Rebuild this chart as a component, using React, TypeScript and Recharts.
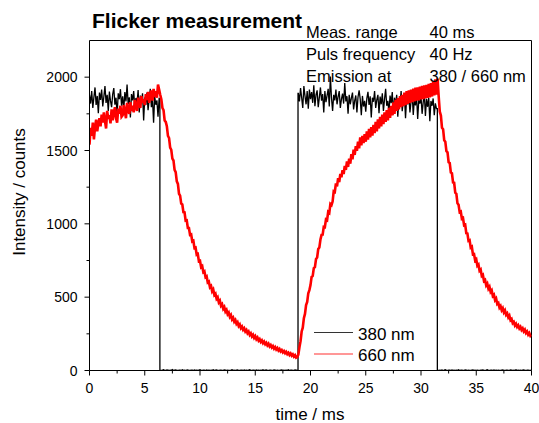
import { Line, LineChart, ReferenceLine, XAxis, YAxis } from "recharts"

// sampling grid of the recorded traces
const SAMPLE_STEP_MS = 0.1

const xTicks = [0, 2.5, 5, 7.5, 10, 12.5, 15, 17.5, 20, 22.5, 25, 27.5, 30, 32.5, 35, 37.5, 40]
const yTicks = [0, 250, 500, 750, 1000, 1250, 1500, 1750, 2000]

// 660 nm emission, counts at t = 0.0, 0.1, ... 40.0 ms (one row per ms)
const red660 = [
  1540, 1655, 1600, 1690, 1575, 1660, 1710, 1630, 1685, 1720,
  1665, 1745, 1690, 1760, 1700, 1650, 1770, 1715, 1740, 1685,
  1780, 1705, 1760, 1795, 1720, 1690, 1785, 1750, 1805, 1730,
  1740, 1810, 1765, 1720, 1825, 1780, 1750, 1830, 1770, 1805,
  1760, 1845, 1800, 1770, 1860, 1815, 1790, 1870, 1825, 1850,
  1810, 1885, 1845, 1900, 1825, 1870, 1910, 1840, 1920, 1865,
  1905, 1860, 1950, 1915, 1880, 1850, 1790, 1775, 1705, 1695,
  1665, 1600, 1585, 1520, 1505, 1445, 1432, 1368, 1352, 1290,
  1272, 1205, 1192, 1138, 1132, 1080, 1078, 1022, 1024, 972,
  972, 925, 928, 880, 884, 835, 838, 790, 794, 745,
  748, 705, 712, 670, 676, 636, 642, 600, 606, 568,
  576, 540, 552, 515, 523, 489, 499, 465, 476, 442,
  452, 421, 433, 402, 413, 384, 395, 366, 378, 349,
  360, 333, 344, 318, 329, 303, 314, 289, 300, 278,
  288, 266, 276, 254, 265, 243, 254, 233, 244, 223,
  234, 213, 224, 204, 214, 195, 205, 187, 197, 179,
  189, 171, 182, 164, 174, 157, 167, 149, 160, 143,
  153, 136, 146, 130, 139, 124, 133, 118, 127, 112,
  121, 106, 116, 101, 110, 95, 104, 88, 92, 108,
  158, 200, 266, 292, 356, 386, 446, 468, 527, 548,
  582, 638, 645, 698, 705, 760, 770, 828, 838, 893,
  925, 926, 980, 978, 1030, 1025, 1082, 1075, 1135, 1128,
  1152, 1222, 1218, 1275, 1255, 1312, 1285, 1340, 1318, 1365,
  1340, 1395, 1368, 1425, 1388, 1445, 1410, 1475, 1440, 1505,
  1470, 1530, 1498, 1560, 1515, 1590, 1535, 1600, 1550, 1612,
  1560, 1630, 1575, 1648, 1590, 1660, 1602, 1675, 1618, 1695,
  1630, 1712, 1650, 1730, 1665, 1745, 1680, 1760, 1695, 1775,
  1705, 1790, 1722, 1805, 1740, 1828, 1750, 1845, 1770, 1858,
  1780, 1870, 1795, 1880, 1802, 1895, 1810, 1905, 1818, 1910,
  1825, 1915, 1830, 1922, 1835, 1928, 1840, 1930, 1842, 1935,
  1848, 1940, 1850, 1945, 1855, 1948, 1858, 1955, 1862, 1960,
  1868, 1972, 1875, 1985, 1880, 1990, 1870, 1765, 1738, 1655,
  1645, 1570, 1560, 1495, 1488, 1420, 1415, 1350, 1345, 1282,
  1280, 1212, 1205, 1140, 1130, 1080, 1084, 1035, 1040, 990,
  994, 936, 934, 884, 888, 838, 844, 792, 794, 750,
  758, 714, 722, 680, 688, 645, 652, 610, 617, 580,
  592, 558, 571, 536, 546, 508, 516, 480, 491, 454,
  461, 429, 440, 412, 425, 397, 410, 380, 390, 362,
  374, 343, 351, 323, 331, 307, 318, 297, 308, 287,
  298, 277, 288, 267, 278, 256, 266, 245, 256, 236,
  244,
]

// 380 nm excitation, counts on the same grid
const black380 = [
  // 0.0 - 6.3 (LED on)
  1880, 1820, 1905, 1790, 1865, 1930, 1810, 1872, 1755, 1895,
  1845, 1915, 1800, 1868, 1940, 1825, 1880, 1770, 1902, 1838,
  1795, 1885, 1925, 1812, 1860, 1742, 1890, 1850, 1918, 1805,
  1870, 1780, 1898, 1835, 1950, 1815, 1862, 1725, 1885, 1842,
  1905, 1790, 1858, 1820, 1912, 1760, 1875, 1830, 1890, 1705,
  1862, 1810, 1895, 1775, 1848, 1920, 1795, 1855, 1690, 1870,
  1812, 1842, 1730, 1855,
  // 6.4 - 18.8 (LED off)
  3, 0, 2, 5, 1, 0,
  4, 2, 0, 3, 1, 6, 0, 2, 4, 1,
  0, 3, 2, 0, 5, 1, 3, 0, 2, 4,
  0, 1, 3, 2, 0, 4, 1, 2, 0, 3,
  5, 1, 0, 2, 3, 0, 4, 1, 2, 0,
  3, 1, 5, 0, 2, 4, 1, 0, 3, 2,
  0, 1, 4, 2, 0, 3, 1, 0, 2, 5,
  1, 3, 0, 2, 4, 0, 1, 3, 2, 0,
  4, 1, 2, 0, 3, 5, 1, 0, 2, 3,
  0, 4, 1, 2, 0, 3, 1, 5, 0, 2,
  4, 1, 0, 3, 2, 0, 1, 4, 2, 0,
  3, 1, 0, 2, 4, 1, 3, 0, 2, 1,
  5, 0, 3, 2, 0, 1, 4, 2, 0,
  // 18.9 - 31.4 (LED on)
  1890,
  1835, 1925, 1860, 1790, 1940, 1872, 1815, 1905, 1785, 1915,
  1850, 1898, 1825, 1945, 1802, 1880, 1910, 1795, 1862, 1930,
  1840, 1885, 1760, 1905, 1830, 1875, 1920, 1800, 2005, 1858,
  1770, 1880, 1842, 1915, 1815, 1868, 1905, 1790, 1850, 1888,
  1820, 1960, 1835, 1870, 1750, 1880, 1815, 1858, 1895, 1780,
  1840, 1875, 1760, 1865, 1910, 1850, 1740, 1872, 1800, 1838,
  1765, 1855, 1900, 1810, 1870, 1725, 1860, 1832, 1905, 1790,
  1845, 1880, 1755, 1868, 1815, 1890, 1770, 1850, 1920, 1805,
  1838, 1760, 1875, 1822, 1898, 1745, 1860, 1812, 1880, 1730,
  1852, 1800, 1905, 1768, 1840, 1875, 1720, 1858, 1815, 1870,
  1760, 1835, 1890, 1742, 1850, 1808, 1872, 1715, 1845, 1820,
  1868, 1750, 1830, 1885, 1735, 1852, 1798, 1860, 1700, 1838,
  1805, 1855, 1740, 1822, 1785,
  // 31.5 - 40.0 (LED off)
  2, 0, 3, 1, 4,
  0, 2, 5, 1, 0, 3, 2, 0, 4, 1,
  3, 0, 2, 1, 5, 0, 3, 2, 0, 1,
  4, 2, 0, 3, 1, 0, 2, 4, 1, 3,
  0, 2, 1, 0, 3, 2, 4, 1, 0, 2,
  5, 1, 0, 3, 2, 0, 4, 1, 2, 0,
  3, 1, 0, 2, 4, 1, 0, 3, 2, 0,
  1, 4, 2, 0, 3, 1, 5, 0, 2, 1,
  3, 0, 2, 4, 1, 0, 3, 2, 0, 1,
  2,
]

// times where the 380 nm LED switches (ms)
const pulseEdges = [6.37, 18.87, 31.48]

const infoLines = [
  ["Meas. range", "40 ms"],
  ["Puls frequency", "40 Hz"],
  ["Emission at", "380 / 660 nm"],
]

const legendItems = [
  { name: "380 nm", color: "#333333" },
  { name: "660 nm", color: "#ff3030" },
]

const FONT = "'Liberation Sans', Arial, Helvetica, sans-serif"

const rows = red660.map((v, i) => ({
  t: Math.round(i * SAMPLE_STEP_MS * 10) / 10,
  red: v,
  black: black380[i],
}))

// black trace with vertical switching edges
const blackRows: { t: number; black: number }[] = []
rows.forEach((r, i) => {
  blackRows.push({ t: r.t, black: r.black })
  const next = rows[i + 1]
  if (!next) return
  pulseEdges
    .filter((e) => e > r.t && e < next.t)
    .forEach((e) => {
      blackRows.push({ t: e, black: r.black }, { t: e, black: next.black })
    })
})

function XTick(props: any) {
  const { x, y, payload } = props
  const major = payload.value % 5 === 0
  return (
    <g>
      <line x1={x} x2={x} y1={y} y2={y + (major ? 5 : 3)} stroke="#000" strokeWidth={1} />
      {major && (
        <text x={x} y={y + 22.5} textAnchor="middle" fontFamily={FONT} fontSize={14} fill="#000">
          {payload.value}
        </text>
      )}
    </g>
  )
}

function YTick(props: any) {
  const { x, y, payload } = props
  const major = payload.value % 500 === 0
  return (
    <g>
      <line x1={x - (major ? 5 : 3)} x2={x} y1={y} y2={y} stroke="#000" strokeWidth={1} />
      {major && (
        <text x={x - 12} y={y + 5} textAnchor="end" fontFamily={FONT} fontSize={14} fill="#000">
          {payload.value}
        </text>
      )}
    </g>
  )
}

export default function App() {
  return (
    <div style={{ position: "absolute", left: 0, top: 0, width: 539, height: 423, background: "#fff" }}>
      <LineChart width={539} height={423} margin={{ top: 40.5, right: 7.5, bottom: 0, left: 0 }}>
        <XAxis
          dataKey="t"
          type="number"
          domain={[0, 40]}
          ticks={xTicks}
          interval={0}
          tickSize={0}
          tickMargin={0}
          tickLine={false}
          tick={<XTick />}
          height={52.5}
          axisLine={{ stroke: "#000", strokeWidth: 1 }}
          allowDataOverflow
        />
        <YAxis
          type="number"
          domain={[0, 2250]}
          ticks={yTicks}
          interval={0}
          tickSize={0}
          tickMargin={0}
          tickLine={false}
          tick={<YTick />}
          width={89.5}
          axisLine={{ stroke: "#000", strokeWidth: 1 }}
          allowDataOverflow
        />
        <ReferenceLine y={2250} stroke="#000" strokeWidth={1} />
        <ReferenceLine x={40} stroke="#000" strokeWidth={1} />
        <Line
          data={blackRows}
          dataKey="black"
          type="linear"
          stroke="#000000"
          strokeWidth={1.3}
          dot={false}
          activeDot={false}
          isAnimationActive={false}
        />
        <Line
          data={rows}
          dataKey="red"
          type="linear"
          stroke="#ff0000"
          strokeWidth={2.6}
          dot={false}
          activeDot={false}
          isAnimationActive={false}
        />
      </LineChart>
      <svg
        width={539}
        height={423}
        style={{ position: "absolute", left: 0, top: 0, pointerEvents: "none" }}
        fontFamily={FONT}
      >
        <text x={92} y={27.5} fontSize={21} fontWeight="bold" fill="#000">
          Flicker measurement
        </text>
        {infoLines.map(([label, value], i) => (
          <g key={label}>
            <text x={306} y={37.5 + i * 22.3} fontSize={16.5} fill="#000">
              {label}
            </text>
            <text x={429.5} y={37.5 + i * 22.3} fontSize={16.5} fill="#000">
              {value}
            </text>
          </g>
        ))}
        <text transform="translate(25,192) rotate(-90)" textAnchor="middle" fontSize={17} fill="#000">
          Intensity / counts
        </text>
        <text x={310} y={420} textAnchor="middle" fontSize={17} fill="#000">
          time / ms
        </text>
        {legendItems.map((item, i) => (
          <g key={item.name}>
            <line
              x1={314}
              x2={353}
              y1={332.5 + i * 21.5}
              y2={332.5 + i * 21.5}
              stroke={item.color}
              strokeWidth={1.2}
            />
            <text x={358} y={339.5 + i * 21.5} fontSize={17} fill="#000">
              {item.name}
            </text>
          </g>
        ))}
      </svg>
    </div>
  )
}
